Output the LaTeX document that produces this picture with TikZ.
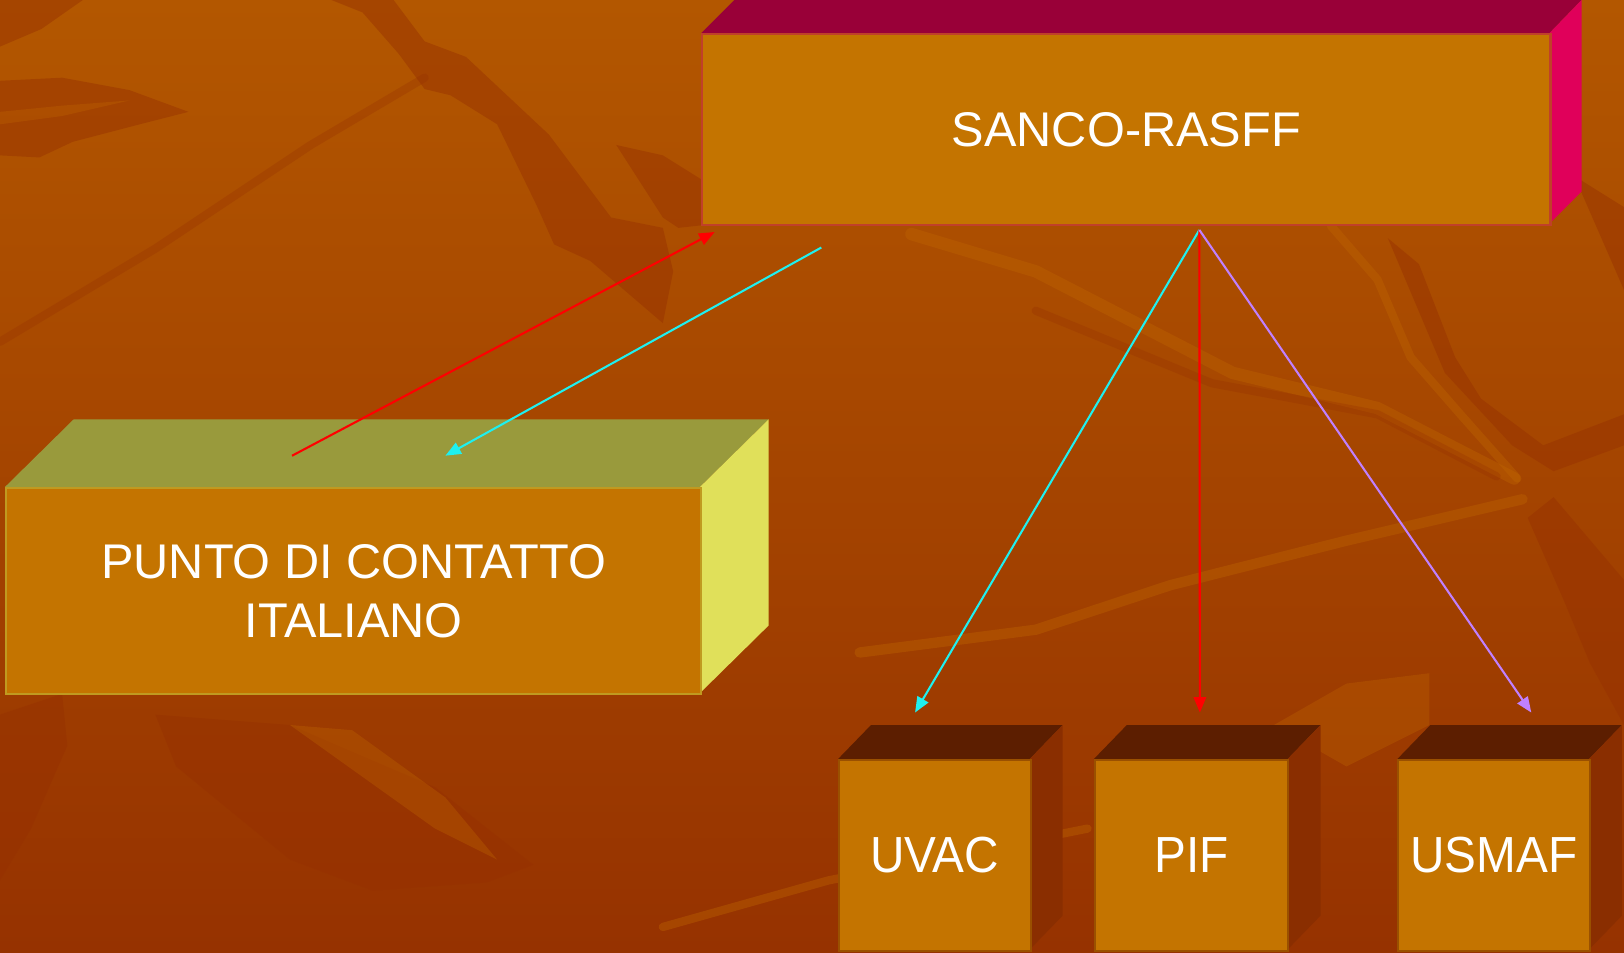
\documentclass[tikz,border=0pt]{standalone}
\usepackage{fontspec}
\setmainfont{Liberation Sans}
\newfontfamily\bigfont{Liberation Sans}
\newfontfamily\smallfont[FakeStretch=0.94]{Liberation Sans}
\usetikzlibrary{arrows.meta,calc}
\definecolor{bgtop}{HTML}{B35700}
\definecolor{bgbot}{HTML}{963200}
\definecolor{bgdark}{HTML}{963000}
\definecolor{bglight}{HTML}{BE6400}
\definecolor{frontc}{HTML}{C47400}
\definecolor{sancotop}{HTML}{990038}
\definecolor{sancoside}{HTML}{E0005A}
\definecolor{sancoedge}{HTML}{C0402A}
\definecolor{puntotop}{HTML}{999A3C}
\definecolor{puntoside}{HTML}{E0E05A}
\definecolor{puntoedge}{HTML}{C09A20}
\definecolor{smalltop}{HTML}{5C1E00}
\definecolor{smallside}{HTML}{8A2E00}
\definecolor{smalledge}{HTML}{9A5000}
\definecolor{arrred}{HTML}{FF0000}
\definecolor{arrcyan}{HTML}{1EF0F0}
\definecolor{arrlav}{HTML}{C080FF}
\tikzset{
  face/.style={draw, line width=1pt, inner sep=0pt, anchor=north west, fill=frontc, text=white, align=center},
  bigtext/.style={font=\bigfont\fontsize{23.5}{28.5}\selectfont},
  smalltext/.style={font=\smallfont\fontsize{24.5}{28}\selectfont},
  conn/.style={line width=1pt, -{Triangle[length=7.5pt,width=6pt]}},
  darkdeco/.style={fill=bgdark, opacity=0.45},
  lightdeco/.style={fill=bglight, opacity=0.35},
  lightline/.style={draw=bglight, opacity=0.4, line cap=round, line join=round},
  darkline/.style={draw=bgdark, opacity=0.3, line cap=round, line join=round}
}
\begin{document}
\begin{tikzpicture}[x=0.5pt,y=-0.5pt]
\useasboundingbox (0,0) rectangle (1568,920);
% background
\shade[top color=bgtop, bottom color=bgbot] (0,0) rectangle (1568,920);
\fill[darkdeco] (0,0) -- (80,0) -- (40,28) -- (0,45) -- cycle;
\fill[darkdeco] (0,78) -- (60,75) -- (125,87) -- (182,108) -- (135,120) -- (70,137) -- (38,152) -- (0,150) -- cycle;
\fill[lightdeco] (0,108) -- (60,102) -- (125,97) -- (60,112) -- (0,120) -- cycle;
\fill[darkdeco] (320,0) -- (380,0) -- (410,40) -- (450,55) -- (530,130) -- (590,210) -- (640,220) -- (650,262) -- (640,312) -- (570,252) -- (535,236) -- (518,198) -- (480,120) -- (435,92) -- (410,86) -- (385,52) -- (350,12) -- cycle;
\draw[darkline, line width=4pt] (0,330) -- (150,240) -- (300,140) -- (410,75);
\fill[darkdeco] (595,140) -- (640,150) -- (680,175) -- (700,215) -- (655,220) -- (640,210) -- cycle;
\draw[lightline, line width=6pt] (880,226) -- (1000,262) -- (1190,360) -- (1330,394) -- (1462,462);
\draw[darkline, line width=4pt] (1000,300) -- (1170,370) -- (1330,400) -- (1445,460);
\draw[lightline, line width=4pt] (1285,218) -- (1330,270) -- (1362,345) -- (1410,400) -- (1465,462);
\fill[darkdeco] (1340,230) -- (1370,255) -- (1405,345) -- (1430,385) -- (1490,430) -- (1568,400) -- (1568,430) -- (1500,455) -- (1460,430) -- (1395,360) -- cycle;
\fill[darkdeco] (1520,170) -- (1568,200) -- (1568,280) -- cycle;
\draw[lightline, line width=5pt] (830,630) -- (1000,608) -- (1130,565) -- (1300,522) -- (1470,482);
\draw[lightline, line width=4pt] (640,895) -- (800,850) -- (900,830) -- (1050,800);
\fill[darkdeco] (150,690) -- (280,700) -- (420,760) -- (515,835) -- (470,852) -- (360,860) -- (280,830) -- (170,740) -- cycle;
\fill[lightdeco] (280,700) -- (340,705) -- (430,770) -- (480,830) -- (420,800) -- cycle;
\fill[darkdeco] (0,690) -- (60,670) -- (65,720) -- (30,800) -- (0,850) -- cycle;
\fill[lightdeco] (1230,700) -- (1300,660) -- (1380,650) -- (1380,700) -- (1300,740) -- cycle;
\fill[darkdeco] (1475,500) -- (1500,480) -- (1568,560) -- (1568,700) -- (1535,640) -- (1510,580) -- cycle;
% SANCO-RASFF box
\fill[sancotop] (677,32) -- (709,0) -- (1527,0) -- (1496,32) -- cycle;
\fill[sancoside] (1496,32) -- (1527,0) -- (1527,185) -- (1496,216) -- cycle;
\node[face, bigtext, draw=sancoedge, minimum width=409.5pt, minimum height=92pt] (sanco) at (677,32) {SANCO-RASFF};
% PUNTO box
\fill[puntotop] (5,470) -- (71,405) -- (742,405) -- (676,470) -- cycle;
\fill[puntoside] (676,470) -- (742,405) -- (742,604) -- (676,669) -- cycle;
\node[face, bigtext, draw=puntoedge, minimum width=335.5pt, minimum height=99.5pt] (punto) at (5,470) {PUNTO DI CONTATTO\hspace{5pt}\\ITALIANO};
% small boxes
\foreach \x/\w in {809/185, 1056/187, 1349/185}{
  \fill[smalltop] (\x,733) -- ++(32,-33) -- ++(\w,0) -- ++(-32,33) -- cycle;
  \fill[smallside] (\x+\w,733) -- ++(32,-33) -- ++(0,184) -- ++(-32,33) -- cycle;
}
\node[face, smalltext, draw=smalledge, minimum width=92.5pt, minimum height=92pt] (uvac) at (809,733) {UVAC};
\node[face, smalltext, draw=smalledge, minimum width=93.5pt, minimum height=92pt] (pif) at (1056,733) {PIF};
\node[face, smalltext, draw=smalledge, minimum width=92.5pt, minimum height=92pt] (usmaf) at (1349,733) {USMAF};
% connector end points
\coordinate (redstart) at (282,440);
\coordinate (redend) at ($(sanco.south west)+(13,6)$);
\coordinate (cyanstart) at ($(sanco.south west)+(116,21)$);
\coordinate (cyanend) at (430,440);
\coordinate (hub) at (1158,222);
\coordinate (uvacin) at ($(uvac.north)+(-19,-45)$);
\coordinate (pifin) at ($(pif.north)+(8,-45)$);
\coordinate (usmafin) at ($(usmaf.north)+(36,-45)$);
% connectors
\draw[conn, arrred] (redstart) -- (redend);
\draw[conn, arrcyan] (cyanstart) -- (cyanend);
\draw[conn, arrcyan] (hub) -- (uvacin);
\draw[conn, arrred] (hub) -- (pifin);
\draw[conn, arrlav] (hub) -- (usmafin);
\end{tikzpicture}
\end{document}
